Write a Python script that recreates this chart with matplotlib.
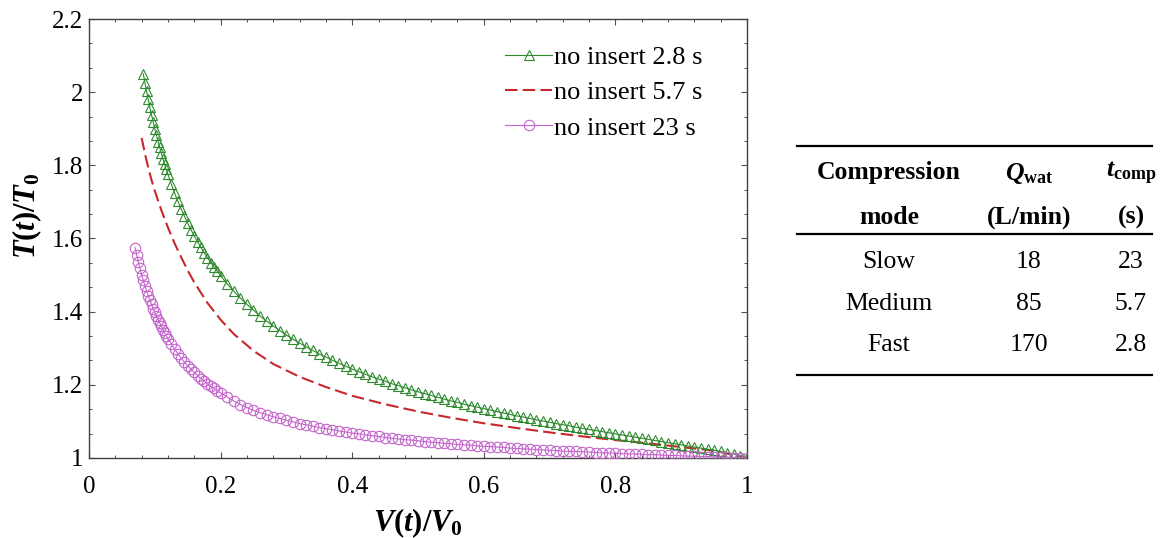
import matplotlib
matplotlib.use('Agg')
import matplotlib.pyplot as plt
from matplotlib.lines import Line2D
from matplotlib.ticker import AutoMinorLocator

# Werte (V/V0 -> T/T0)
tail_v = [0.21, 0.22, 0.23, 0.24, 0.25, 0.26, 0.27, 0.28, 0.29, 0.30,
          0.31, 0.32, 0.33, 0.34, 0.35, 0.36, 0.37, 0.38, 0.39, 0.40,
          0.41, 0.42, 0.43, 0.44, 0.45, 0.46, 0.47, 0.48, 0.49, 0.50,
          0.51, 0.52, 0.53, 0.54, 0.55, 0.56, 0.57, 0.58, 0.59, 0.60,
          0.61, 0.62, 0.63, 0.64, 0.65, 0.66, 0.67, 0.68, 0.69, 0.70,
          0.71, 0.72, 0.73, 0.74, 0.75, 0.76, 0.77, 0.78, 0.79, 0.80,
          0.81, 0.82, 0.83, 0.84, 0.85, 0.86, 0.87, 0.88, 0.89, 0.90,
          0.91, 0.92, 0.93, 0.94, 0.95, 0.96, 0.97, 0.98, 0.99, 1.00]

# no insert 2.8 s
fast_v = [0.0825, 0.085, 0.0875, 0.09, 0.0925, 0.095, 0.0975, 0.10,
          0.1025, 0.105, 0.1075, 0.11, 0.1125, 0.115, 0.1175, 0.12,
          0.125, 0.13, 0.135, 0.14, 0.145, 0.15, 0.155, 0.16,
          0.165, 0.17, 0.175, 0.18, 0.185, 0.19, 0.195, 0.20] + tail_v
fast_t = [2.050, 2.026, 2.002, 1.980, 1.959, 1.938, 1.919, 1.900,
          1.882, 1.865, 1.849, 1.833, 1.817, 1.803, 1.789, 1.775,
          1.749, 1.725, 1.702, 1.681, 1.661, 1.642, 1.624, 1.607,
          1.591, 1.576, 1.561, 1.548, 1.534, 1.522, 1.510, 1.498,
          1.476, 1.456, 1.437, 1.420, 1.404, 1.388, 1.374, 1.361, 1.348, 1.336,
          1.325, 1.314, 1.304, 1.294, 1.284, 1.276, 1.267, 1.259, 1.251, 1.243,
          1.236, 1.229, 1.222, 1.216, 1.210, 1.203, 1.198, 1.192, 1.186, 1.181,
          1.176, 1.171, 1.166, 1.161, 1.156, 1.152, 1.147, 1.143, 1.139, 1.135,
          1.131, 1.127, 1.123, 1.119, 1.115, 1.112, 1.108, 1.104, 1.101, 1.098,
          1.094, 1.091, 1.088, 1.084, 1.081, 1.078, 1.075, 1.072, 1.069, 1.066,
          1.063, 1.060, 1.057, 1.054, 1.051, 1.048, 1.045, 1.042, 1.039, 1.036,
          1.033, 1.030, 1.027, 1.024, 1.021, 1.018, 1.014, 1.011, 1.006, 1.000]

# no insert 5.7 s
medium_v = [0.08, 0.085, 0.09, 0.095, 0.10, 0.11, 0.12, 0.13, 0.14, 0.15,
            0.16, 0.18, 0.20, 0.22, 0.25, 0.28, 0.32, 0.36, 0.40, 0.45,
            0.50, 0.55, 0.60, 0.65, 0.70, 0.75, 0.80, 0.85, 0.90, 0.95, 1.00]
medium_t = [1.875, 1.832, 1.794, 1.760, 1.730, 1.677, 1.630, 1.587, 1.549, 1.513,
            1.480, 1.424, 1.378, 1.339, 1.293, 1.257, 1.222, 1.194, 1.170, 1.147,
            1.127, 1.110, 1.095, 1.082, 1.070, 1.059, 1.049, 1.040, 1.030, 1.020, 1.000]

# no insert 23 s
slow_v = [0.07, 0.0725, 0.075, 0.0775, 0.08, 0.0825, 0.085, 0.0875, 0.09,
          0.0925, 0.095, 0.0975, 0.10, 0.1025, 0.105, 0.1075, 0.11, 0.1125,
          0.115, 0.1175, 0.12, 0.125, 0.13, 0.135, 0.14, 0.145, 0.15, 0.155,
          0.16, 0.165, 0.17, 0.175, 0.18, 0.185, 0.19, 0.195, 0.20] + tail_v
slow_t = [1.575, 1.555, 1.536, 1.518, 1.501, 1.486, 1.471, 1.457, 1.444,
          1.431, 1.420, 1.408, 1.398, 1.388, 1.378, 1.369, 1.360, 1.351,
          1.342, 1.334, 1.326, 1.312, 1.298, 1.285, 1.273, 1.262, 1.252, 1.243,
          1.234, 1.225, 1.217, 1.210, 1.203, 1.196, 1.190, 1.184, 1.178,
          1.167, 1.156, 1.146, 1.138, 1.130, 1.124, 1.118, 1.113, 1.108, 1.103,
          1.099, 1.094, 1.091, 1.087, 1.083, 1.080, 1.077, 1.074, 1.071, 1.068,
          1.066, 1.063, 1.061, 1.059, 1.056, 1.054, 1.052, 1.050, 1.049, 1.047,
          1.045, 1.043, 1.042, 1.040, 1.039, 1.037, 1.036, 1.035, 1.033, 1.032,
          1.031, 1.030, 1.029, 1.027, 1.026, 1.025, 1.024, 1.023, 1.022, 1.021,
          1.020, 1.019, 1.018, 1.018, 1.017, 1.016, 1.015, 1.014, 1.014, 1.013,
          1.012, 1.011, 1.011, 1.010, 1.009, 1.009, 1.008, 1.007, 1.007, 1.006,
          1.005, 1.005, 1.004, 1.004, 1.003, 1.002, 1.002, 1.001, 1.001, 1.000]

series_labels = ['no insert 2.8 s', 'no insert 5.7 s', 'no insert 23 s']

x_ticks = [0, 0.2, 0.4, 0.6, 0.8, 1.0]
x_tick_labels = ['0', '0.2', '0.4', '0.6', '0.8', '1']
y_ticks = [1.0, 1.2, 1.4, 1.6, 1.8, 2.0, 2.2]
y_tick_labels = ['1', '1.2', '1.4', '1.6', '1.8', '2', '2.2']

# Tabelle rechts
table_header = ['Compression\nmode', r'$Q_{\mathrm{wat}}$' + '\n(L/min)',
                r'$t_{\mathrm{comp}}$' + '\n(s)']
table_modes = ['Slow', 'Medium', 'Fast']
table_q = ['18', '85', '170']
table_tcomp = ['23', '5.7', '2.8']

plt.rcParams['font.family'] = 'Liberation Serif'
plt.rcParams['mathtext.fontset'] = 'custom'
plt.rcParams['mathtext.rm'] = 'Liberation Serif:bold'
plt.rcParams['mathtext.it'] = 'Liberation Serif:italic:bold'
plt.rcParams['mathtext.bf'] = 'Liberation Serif:bold'

W, H = 1164, 538
fig = plt.figure(figsize=(W / 100, H / 100), dpi=100)
ax = fig.add_axes([89 / W, 80 / H, 658 / W, 439 / H])

green = '#2f8a2f'
red = '#c8282d'
purple = '#c464cc'

ax.plot(fast_v, fast_t, color=green, lw=0.8, marker='^', ms=6.5, mfc='none',
        mec=green, mew=0.8, label=series_labels[0], zorder=3)
ax.plot(medium_v, medium_t, color=red, lw=1.5, dashes=(6, 2.5),
        label=series_labels[1], zorder=2)
ax.plot(slow_v, slow_t, color=purple, lw=0.8, marker='o', ms=7.5, mfc='none',
        mec=purple, mew=0.8, label=series_labels[2], zorder=3)

ax.set_xlim(0, 1)
ax.set_ylim(1, 2.2)
ax.set_xticks(x_ticks)
ax.set_xticklabels(x_tick_labels)
ax.set_yticks(y_ticks)
ax.set_yticklabels(y_tick_labels)
ax.xaxis.set_minor_locator(AutoMinorLocator(5))
ax.yaxis.set_minor_locator(AutoMinorLocator(3))
ax.tick_params(which='both', direction='in', top=True, right=True,
               color='#505050', labelsize=18)
ax.tick_params(which='major', length=4.3, width=0.8)
ax.tick_params(which='minor', length=2.4, width=0.7)
ax.tick_params(axis='x', pad=13)
ax.tick_params(axis='y', pad=4)
for s in ax.spines.values():
    s.set_color('#404040')
    s.set_linewidth(1.0)

ax.set_xlabel(r'$V(t)/V_0$', fontsize=22)
ax.xaxis.set_label_coords(0.5, -0.11)
ax.set_ylabel(r'$T(t)/T_0$', fontsize=22)
ax.yaxis.set_label_coords(-0.068, 0.551)

ax.legend(loc='upper left', bbox_to_anchor=(0.632, 0.94), frameon=False,
          fontsize=19, handlelength=1.8, handletextpad=0.05, labelspacing=0.45,
          borderpad=0, borderaxespad=0, numpoints=1)

# Tabelle
def fx(px):
    return px / W

def fy(py):
    return 1 - py / H

for yl in [146, 234, 375]:
    fig.add_artist(Line2D([fx(797), fx(1152)], [fy(yl), fy(yl)],
                          color='black', lw=1.6))

col_x = [889, 1029, 1131]
head_rows = [173, 217]
for cx, head in zip(col_x, table_header):
    top, bottom = head.split('\n')
    fig.text(fx(cx), fy(head_rows[0]), top, ha='center', va='center',
             fontsize=18.5, fontweight='bold')
    fig.text(fx(cx), fy(head_rows[1]), bottom, ha='center', va='center',
             fontsize=18.5, fontweight='bold')

body_rows = [262, 304, 345]
for ry, m, q, tc in zip(body_rows, table_modes, table_q, table_tcomp):
    for cx, txt in zip(col_x, [m, q, tc]):
        fig.text(fx(cx), fy(ry), txt, ha='center', va='center', fontsize=18.5)

fig.savefig('out.png', dpi=100)
